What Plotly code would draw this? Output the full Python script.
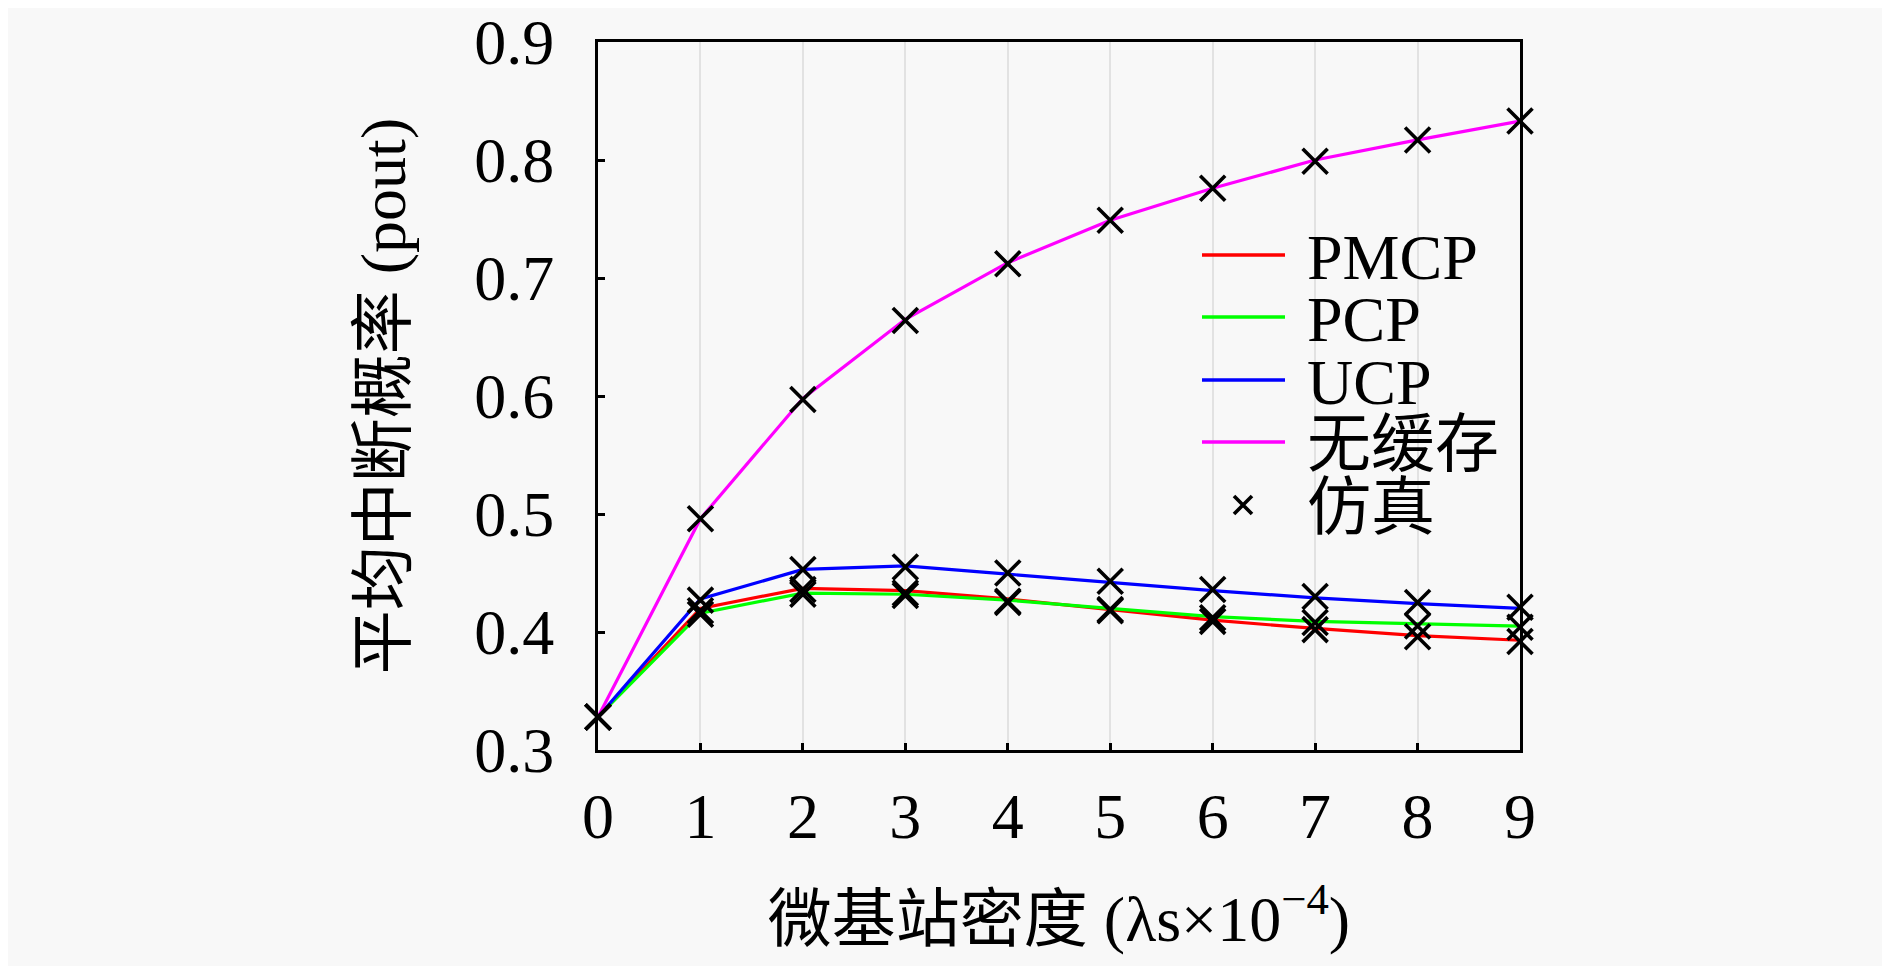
import plotly.graph_objects as go

x_vals = [0, 1, 2, 3, 4, 5, 6, 7, 8, 9]

# theoretical curves
pmcp = [0.328, 0.420, 0.437, 0.435, 0.428, 0.419, 0.410, 0.403, 0.397, 0.393]
pcp = [0.328, 0.416, 0.433, 0.432, 0.427, 0.420, 0.413, 0.409, 0.407, 0.405]
ucp = [0.328, 0.428, 0.453, 0.456, 0.449, 0.442, 0.435, 0.429, 0.424, 0.420]
no_cache = [0.328, 0.496, 0.598, 0.665, 0.713, 0.749, 0.776, 0.800, 0.817, 0.833]

# simulation points
sim_pmcp = [0.328, 0.418, 0.436, 0.433, 0.426, 0.418, 0.409, 0.402, 0.396, 0.392]
sim_pcp = [0.328, 0.415, 0.432, 0.431, 0.425, 0.419, 0.412, 0.408, 0.405, 0.404]
sim_ucp = [0.328, 0.427, 0.453, 0.455, 0.450, 0.443, 0.436, 0.430, 0.425, 0.421]
sim_no_cache = [0.328, 0.496, 0.597, 0.664, 0.712, 0.749, 0.776, 0.799, 0.817, 0.833]

names = ["PMCP", "PCP", "UCP", "无缓存"]
colors = ["#ff0000", "#00ff00", "#0000ff", "#ff00ff"]
sim_name = "仿真"

x_ticks = [0, 1, 2, 3, 4, 5, 6, 7, 8, 9]
y_ticks = [0.3, 0.4, 0.5, 0.6, 0.7, 0.8, 0.9]
y_tick_text = ["0.3", "0.4", "0.5", "0.6", "0.7", "0.8", "0.9"]

x_title = "微基站密度 (λs×10<sup>−4</sup>)"
y_title = "平均中断概率 (pout)"

FONT = "Liberation Serif, Noto Sans CJK SC, serif"
BG = "#f8f8f8"
FS = 64

fig = go.Figure()
for name, col, ys in zip(names, colors, [pmcp, pcp, ucp, no_cache]):
    fig.add_trace(go.Scatter(x=x_vals, y=ys, mode="lines", name=name,
                             line=dict(color=col, width=3.2), cliponaxis=False,
                             showlegend=False))

sims = [sim_pmcp, sim_pcp, sim_ucp, sim_no_cache]
for i, ys in enumerate(sims):
    fig.add_trace(go.Scatter(x=x_vals, y=ys, mode="markers", name=sim_name,
                             showlegend=False,
                             marker=dict(symbol="x-thin", size=25, color="black",
                                         line=dict(color="black", width=3.6)),
                             cliponaxis=False))

# ---- manual legend (positions in plot-area pixel space -> paper fractions)
PL, PR, PT, PB = 598.0, 1520.0, 42.0, 750.0
def px(xp):
    return (xp - PL) / (PR - PL)
def py(yp):
    return (PB - yp) / (PB - PT)

row_y = [255, 317, 380, 442, 505]
line_x0, line_x1, text_x = 1202, 1285, 1305
shapes = []
annotations = []
for name, col, ry in zip(names, colors, row_y[:4]):
    shapes.append(dict(type="line", xref="paper", yref="paper",
                       x0=px(line_x0), x1=px(line_x1), y0=py(ry), y1=py(ry),
                       line=dict(color=col, width=3.4)))
    annotations.append(dict(text=name, xref="paper", yref="paper",
                            x=px(text_x), y=py(ry + 2), xanchor="left", yanchor="middle",
                            showarrow=False, font=dict(size=FS, family=FONT, color="black")))
mx, my, h = 1243, row_y[4], 9
shapes.append(dict(type="path", xref="paper", yref="paper",
                   path=f"M {px(mx-h)} {py(my-h)} L {px(mx+h)} {py(my+h)} "
                        f"M {px(mx-h)} {py(my+h)} L {px(mx+h)} {py(my-h)}",
                   line=dict(color="black", width=3.6)))
annotations.append(dict(text=sim_name, xref="paper", yref="paper",
                        x=px(text_x), y=py(row_y[4] + 2), xanchor="left", yanchor="middle",
                        showarrow=False, font=dict(size=FS, family=FONT, color="black")))

fig.update_layout(
    width=1890, height=966,
    paper_bgcolor=BG, plot_bgcolor=BG,
    margin=dict(l=590, r=378, t=34, b=224),
    font=dict(family=FONT, size=FS, color="black"),
    showlegend=False,
    shapes=shapes, annotations=annotations,
)
fig.update_xaxes(
    range=[0, 9], tickvals=x_ticks, ticktext=[str(t) for t in x_ticks],
    showgrid=True, gridcolor="#e2e2e2", gridwidth=2,
    showline=True, linecolor="black", linewidth=3, mirror=True,
    ticks="inside", ticklen=7, tickwidth=3, tickcolor="black",
    ticklabelstandoff=8, ticklabeloverflow="allow", zeroline=False,
    automargin=False,
    tickfont=dict(size=FS, family=FONT),
    title=dict(text=x_title, font=dict(size=FS, family=FONT), standoff=46),
)
fig.update_yaxes(
    range=[0.3, 0.9], tickvals=y_ticks, ticktext=y_tick_text,
    showgrid=False,
    showline=True, linecolor="black", linewidth=3, mirror=True,
    ticks="inside", ticklen=7, tickwidth=3, tickcolor="black",
    ticklabelstandoff=28, ticklabeloverflow="allow", zeroline=False,
    automargin=False,
    tickfont=dict(size=FS, family=FONT),
    title=dict(text=y_title, font=dict(size=FS, family=FONT), standoff=48),
)

fig.write_html("out.html")
